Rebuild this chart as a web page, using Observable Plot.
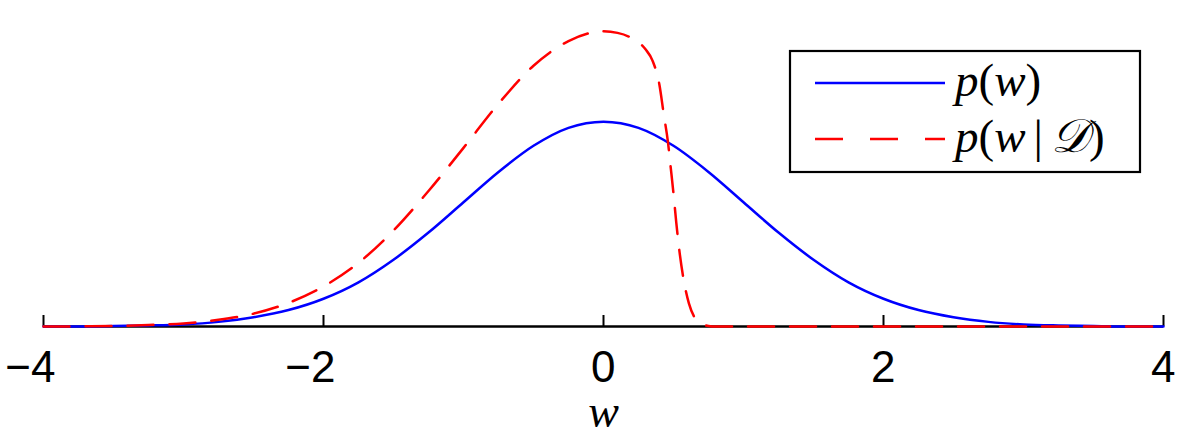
<!DOCTYPE html>
<html>
<head>
<meta charset="utf-8">
<script src="https://cdn.jsdelivr.net/npm/d3@7"></script>
<script src="https://cdn.jsdelivr.net/npm/@observablehq/plot@0.6"></script>
<style>
  html, body { margin: 0; padding: 0; background: #fff; }
  #wrap { position: relative; width: 1200px; height: 435px; }
  #legend { position: absolute; left: 0; top: 0; pointer-events: none; }
</style>
</head>
<body>
<div id="wrap"></div>
<script>
// Prior p(w)
const wPrior = [-4,-3.75,-3.5,-3.25,-3,-2.75,-2.5,-2.25,-2,-1.75,-1.5,-1.25,-1,-0.75,-0.5,-0.25,0,
                0.25,0.5,0.75,1,1.25,1.5,1.75,2,2.25,2.5,2.75,3,3.25,3.5,3.75,4];
const pPrior = [0.000,0.000,0.001,0.002,0.004,0.009,0.018,0.032,0.054,0.086,0.130,0.183,0.242,0.301,0.352,0.387,0.399,
                0.387,0.352,0.301,0.242,0.183,0.130,0.086,0.054,0.032,0.018,0.009,0.004,0.002,0.001,0.000,0.000];
// Posterior p(w | D)
const wPost = [-4,-3.75,-3.5,-3.25,-3,-2.75,-2.5,-2.25,-2,-1.75,-1.5,-1.25,-1,-0.75,-0.5,-0.25,0,
               0.1,0.2,0.3,0.35,0.4,0.43,0.46,0.48,0.5,0.52,0.54,0.57,0.61,0.65,0.7,0.75,0.8,1,1.5,2,2.5,3,3.5,4];
const pPost = [0,0.0003,0.001,0.003,0.006,0.013,0.025,0.046,0.078,0.124,0.187,0.264,0.348,0.434,0.508,0.556,0.575,
               0.572,0.562,0.540,0.518,0.470,0.414,0.360,0.310,0.259,0.202,0.152,0.095,0.045,0.018,0.006,0.001,0,0,0,0,0,0,0,0];
const xTicks = [-4,-2,0,2,4];
const axisLabel = "w";

const prior = wPrior.map((w, i) => ({w, p: pPrior[i]}));
const post = wPost.map((w, i) => ({w, p: pPost[i]}));

const fmt = d => d < 0 ? "\u2212" + Math.abs(d) : String(d);

const chart = Plot.plot({
  width: 1200,
  height: 435,
  marginLeft: 43,
  marginRight: 37,
  marginTop: 18,
  marginBottom: 109,
  style: {fontFamily: "Liberation Sans, Arial, sans-serif", background: "#fff", overflow: "visible"},
  x: {domain: [-4, 4]},
  y: {domain: [0, 0.6], axis: null},
  marks: [
    Plot.ruleY([0], {stroke: "#000", strokeWidth: 2.5}),
    Plot.axisX(xTicks, {tickSize: -11, tickFormat: () => "", strokeWidth: 2, stroke: "#000", label: null}),
    Plot.axisX(xTicks, {
      tickSize: 0, tickPadding: 24, strokeWidth: 0,
      tickFormat: fmt, fontSize: 44, fill: "#000", textAnchor: "end", dx: 12, label: null
    }),
    Plot.line(prior, {x: "w", y: "p", stroke: "#0000ff", strokeWidth: 2.5, curve: "monotone-x"}),
    Plot.line(post, {x: "w", y: "p", stroke: "#ff0000", strokeWidth: 2.5, curve: "monotone-x", strokeDasharray: "26,16"}),
    Plot.text([axisLabel], {frameAnchor: "bottom", text: d => d, dy: 86, lineAnchor: "middle",
      fontSize: 46, fontStyle: "italic", fontFamily: "Liberation Serif, serif", fill: "#000"})
  ]
});

const wrap = document.getElementById("wrap");
wrap.appendChild(chart);

// Legend overlay
const ns = "http://www.w3.org/2000/svg";
const leg = document.createElementNS(ns, "svg");
leg.setAttribute("id", "legend");
leg.setAttribute("width", 1200);
leg.setAttribute("height", 435);
leg.innerHTML = `
  <rect x="790" y="51" width="350" height="121" fill="#fff" stroke="#000" stroke-width="2.2"/>
  <line x1="815" x2="945" y1="83" y2="83" stroke="#0000ff" stroke-width="2.5"/>
  <line x1="815" x2="945" y1="139" y2="139" stroke="#ff0000" stroke-width="2.5" stroke-dasharray="28,27"/>
  <text x="955" y="96" font-family="Liberation Serif, serif" font-size="47" fill="#000"><tspan font-style="italic">p</tspan>(<tspan font-style="italic">w</tspan>)</text>
  <text x="955" y="152" font-family="Liberation Serif, serif" font-size="47" fill="#000"><tspan font-style="italic">p</tspan>(<tspan font-style="italic">w</tspan><tspan dx="8">|</tspan><tspan dx="8" font-style="italic">\u{1D49F}</tspan>)</text>
`;
wrap.appendChild(leg);
</script>
</body>
</html>
